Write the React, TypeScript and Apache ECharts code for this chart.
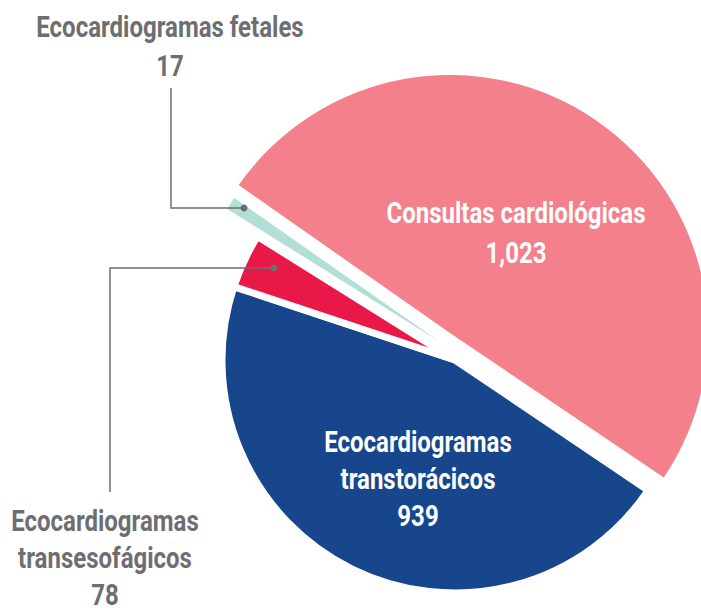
import React, { useEffect, useRef } from 'react';
import * as echarts from 'echarts';

// ---- data ----
const categories = [
  'Consultas cardiológicas',
  'Ecocardiogramas transtorácicos',
  'Ecocardiogramas transesofágicos',
  'Ecocardiogramas fetales',
];
const labelNames = [
  'Consultas cardiológicas',
  'Ecocardiogramas\ntranstorácicos',
  'Ecocardiogramas\ntransesofágicos',
  'Ecocardiogramas fetales',
];
const values = [1023, 939, 78, 17];
const colors = ['#F3808B', '#18468C', '#E81848', '#B2DFD5'];

// ---- layout (not data) ----
const layers = [
  { show: [0], center: [450, 333], radius: 258, border: 0 },
  { show: [1, 2], center: [455, 360], radius: 233, border: 7 },
  { show: [3], center: [440, 342], radius: 251, border: 0 },
];
const insideIdx = [0, 1];
// x centre, y of first line centre, line spacing
const labelPos = [
  { x: 516, y: 213, lh: 40 },
  { x: 418, y: 442, lh: 37 },
  { x: 105, y: 521, lh: 37 },
  { x: 170, y: 27, lh: 39 },
];
const leaders = [
  null,
  null,
  [[110, 492], [110, 268], [274, 268]],
  [[171, 88], [171, 208], [244, 208]],
];

const FONT = 'Roboto, "Noto Sans", sans-serif';
const GRAY = '#6D6E71';
const SCALE_X = 0.8;

export default function App() {
  const ref = useRef<HTMLDivElement>(null);
  useEffect(() => {
    if (!ref.current) return;
    const chart = echarts.init(ref.current, undefined, { renderer: 'svg' });
    const series = layers.map((layer) => ({
      type: 'pie',
      center: layer.center,
      radius: layer.radius,
      startAngle: 145,
      clockwise: true,
      avoidLabelOverlap: false,
      silent: true,
      emphasis: { disabled: true },
      label: { show: false },
      labelLine: { show: false },
      data: categories.map((name, i) => {
        const visible = layer.show.includes(i);
        return {
          name,
          value: values[i],
          itemStyle: visible
            ? { color: colors[i], borderColor: '#ffffff', borderWidth: layer.border }
            : { color: 'transparent', borderWidth: 0 },
        };
      }),
    }));

    const graphics: any[] = [];
    categories.forEach((_, i) => {
      const inside = insideIdx.includes(i);
      const p = labelPos[i];
      const pts = leaders[i];
      if (pts) {
        graphics.push({
          type: 'polyline',
          shape: { points: pts },
          style: { stroke: GRAY, lineWidth: 1.5, fill: null },
          z: 50,
        });
        const end = pts[pts.length - 1];
        graphics.push({
          type: 'circle',
          shape: { cx: end[0], cy: end[1], r: 3.5 },
          style: { fill: GRAY },
          z: 51,
        });
      }
      const lines = [...labelNames[i].split('\n'), values[i].toLocaleString('en-US')];
      lines.forEach((line, k) => {
        graphics.push({
          type: 'text',
          x: p.x,
          y: p.y + k * p.lh,
          scaleX: SCALE_X,
          z: 60,
          style: {
            text: line,
            fill: inside ? '#ffffff' : GRAY,
            fontFamily: FONT,
            fontWeight: 'bold',
            fontSize: 30,
            lineHeight: 22,
            align: 'center',
            verticalAlign: 'middle',
          },
        });
      });
    });

    chart.setOption({
      animation: false,
      backgroundColor: '#ffffff',
      series,
      graphic: graphics,
    });
    return () => chart.dispose();
  }, []);
  return (
    <div
      ref={ref}
      style={{ position: 'fixed', left: 0, top: 0, width: 701, height: 613 }}
    />
  );
}
